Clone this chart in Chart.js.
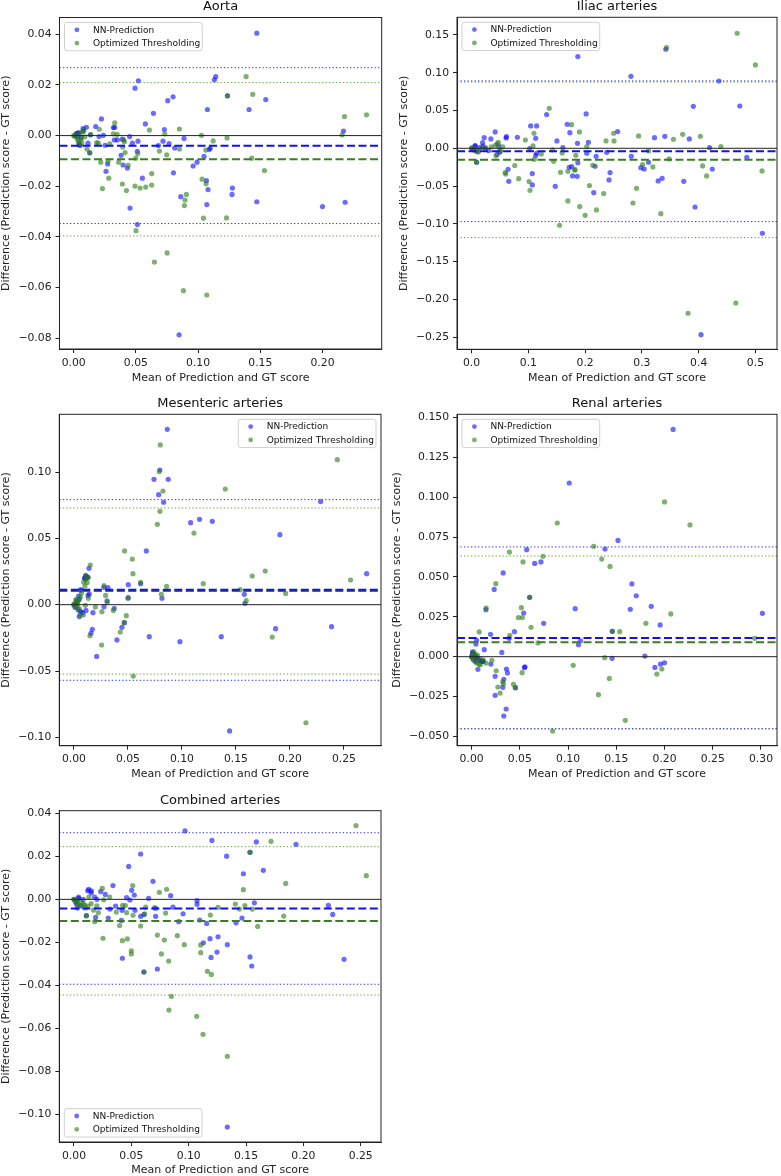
<!DOCTYPE html>
<html>
<head>
<meta charset="utf-8">
<script src="https://cdn.jsdelivr.net/npm/chart.js@4.4.1/dist/chart.umd.min.js"></script>
<style>
  body { margin: 0; background: #fff; }
  #wrap { position: relative; width: 781px; height: 1176px; overflow: hidden; }
  canvas { position: absolute; }
</style>
</head>
<body>
<div id="wrap">
  <canvas id="aorta"></canvas>
  <canvas id="iliac"></canvas>
  <canvas id="mesenteric"></canvas>
  <canvas id="renal"></canvas>
  <canvas id="combined"></canvas>
</div>
<script>
// series names
const seriesNames = ["NN-Prediction", "Optimized Thresholding"];
const xAxisLabel = "Mean of Prediction and GT score";
const yAxisLabel = "Difference (Prediction score - GT score)";

// ---- Aorta ----
const aortaNN = [
  [0.1472, 0.0404], [0.052, 0.0216], [0.0493, 0.0187], [0.1131, 0.022], [0.1142, 0.0233],
  [0.0756, 0.0138], [0.0799, 0.0153], [0.1236, 0.0157], [0.1544, 0.0142], [0.1075, 0.0103],
  [0.141, 0.0103], [0.0641, 0.0088], [0.0223, 0.0066], [0.0576, 0.0046], [0.0177, 0.0036],
  [0.0102, 0.0033], [0.0319, 0.0032], [0.033, 0.0032], [0.0729, 0.0024], [0.2169, 0.0018],
  [0.0887, -0.0011], [0.045, -0.0004], [0.0391, -0.0014], [0.0327, -0.0017], [0.0351, -0.0017],
  [0.0517, -0.0022], [0.0472, -0.003], [0.0718, -0.0022], [0.0767, -0.0032], [0.0681, -0.0039],
  [0.0812, -0.0049], [0.0252, -0.0038], [0.0204, -0.0004], [0.0239, 0.0001], [0.0134, 0.0003],
  [0.0115, -0.003], [0.0051, -0.0039], [0.0032, 0.0009], [0.0075, 0.0028], [0.0381, -0.0078],
  [0.0512, -0.0062], [0.1048, -0.0082], [0.1089, -0.0055], [0.1097, -0.005], [0.0129, -0.0068],
  [0.0397, -0.0116], [0.0432, -0.0128], [0.0273, -0.0112], [0.026, -0.0141], [0.096, -0.012],
  [0.0992, -0.0105], [0.0802, -0.0147], [0.0552, -0.0168], [0.1067, -0.0178], [0.108, -0.0213],
  [0.1276, -0.0207], [0.1273, -0.0232], [0.0861, -0.0241], [0.107, -0.0272], [0.1472, -0.0261],
  [0.2, -0.028], [0.2182, -0.0263], [0.0453, -0.0286], [0.0512, -0.0351], [0.0847, -0.0786],
  [0.001, 0.0], [0.002, 0.0008], [0.003, -0.0006], [0.004, 0.0012], [0.006, -0.0008],
  [0.008, 0.0018], [0.0045, -0.0035]
];
const aortaOT = [
  [0.1386, 0.0233], [0.144, 0.0163], [0.2177, 0.0075], [0.2354, 0.0082], [0.2158, 0.0003],
  [0.1027, 0.0001], [0.1233, -0.0009], [0.1121, -0.0021], [0.1062, -0.0057], [0.1432, -0.0089],
  [0.1534, -0.0138], [0.033, 0.005], [0.0349, 0.0005], [0.0319, 0.0007], [0.0609, 0.0022],
  [0.0732, 0.0007], [0.085, 0.0026], [0.0137, 0.0004], [0.0206, 0.0025], [0.0198, -0.003],
  [0.0185, -0.0028], [0.0402, -0.0017], [0.0408, -0.0024], [0.0394, -0.0045], [0.0413, -0.0067],
  [0.0515, -0.0071], [0.0499, -0.0089], [0.0689, -0.0061], [0.0748, -0.0076], [0.085, -0.0053],
  [0.0217, -0.0105], [0.029, -0.0033], [0.0362, -0.0105], [0.0437, -0.0117], [0.0276, -0.0101],
  [0.0282, -0.0168], [0.0107, -0.0053], [0.0231, -0.0209], [0.0391, -0.0191], [0.0424, -0.0217],
  [0.0493, -0.0199], [0.0534, -0.0207], [0.0579, -0.0203], [0.0627, -0.0195], [0.0627, -0.015],
  [0.1032, -0.0172], [0.1064, -0.019], [0.0906, -0.0232], [0.0895, -0.0254], [0.089, -0.0276],
  [0.1043, -0.0326], [0.1228, -0.0325], [0.0501, -0.0375], [0.0649, -0.0499], [0.0751, -0.0463],
  [0.0882, -0.0612], [0.107, -0.0629], [0.1236, 0.0157], [0.0129, -0.0068],
  [0.0, 0.0], [0.001, -0.0003], [0.002, 0.0004], [0.003, -0.0015], [0.004, -0.0025],
  [0.005, 0.0008], [0.006, -0.0012], [0.007, 0.0015], [0.008, 0.0024], [0.009, -0.0005],
  [0.0045, -0.0032], [0.0065, -0.0028]
];
// mean, upper limit, lower limit
const aortaNNLines = [-0.0040, 0.0268, -0.0347];
const aortaOTLines = [-0.0093, 0.0209, -0.0396];
const aortaXTicks = [0, 0.05, 0.1, 0.15, 0.2];
const aortaYTicks = [-0.08, -0.06, -0.04, -0.02, 0, 0.02, 0.04];

// ---- Iliac arteries ----
const iliacNN = [
  [0.1871, 0.1214], [0.3421, 0.1311], [0.2807, 0.0953], [0.4357, 0.0891], [0.3906, 0.0556],
  [0.4725, 0.056], [0.1322, 0.0446], [0.2018, 0.0455], [0.1684, 0.0318], [0.1041, 0.0296],
  [0.1146, 0.0296], [0.0415, 0.0216], [0.2573, 0.0221], [0.1731, 0.0207], [0.1129, 0.0132],
  [0.0608, 0.0137], [0.0614, 0.0154], [0.0807, 0.0146], [0.0339, 0.0124], [0.0222, 0.0141],
  [0.0193, 0.0075], [0.1503, 0.0097], [0.2058, 0.0079], [0.1865, 0.0066], [0.3222, 0.0141],
  [0.3404, 0.0159], [0.3836, 0.0124], [0.4193, 0.0009], [0.0064, 0.0035], [0.0234, 0.0],
  [0.1023, -0.0004], [0.1608, 0.0009], [0.2029, -0.0066], [0.238, -0.0053], [0.1146, -0.0066],
  [0.1129, -0.0097], [0.2193, -0.0106], [0.2813, -0.0106], [0.4848, -0.0119], [0.1871, -0.019],
  [0.0088, -0.0185], [0.3117, -0.0185], [0.2175, -0.0238], [0.1766, -0.0243], [0.1719, -0.0252],
  [0.2982, -0.0256], [0.304, -0.0274], [0.424, -0.0274], [0.1778, -0.0366], [0.186, -0.0371],
  [0.2439, -0.0322], [0.107, -0.0335], [0.0643, -0.0278], [0.0655, -0.0437], [0.2421, -0.0419],
  [0.3287, -0.0432], [0.3357, -0.0397], [0.3737, -0.0437], [0.107, -0.0485], [0.1474, -0.0503],
  [0.2152, -0.0587], [0.3936, -0.0777], [0.5123, -0.1125], [0.4041, -0.2467],
  [0.0, 0.0], [0.003, -0.002], [0.006, 0.003], [0.01, -0.004], [0.014, 0.001],
  [0.02, 0.003], [0.03, -0.003], [0.045, -0.008], [0.05, -0.005], [0.048, 0.003]
];
const iliacOT = [
  [0.4678, 0.1523], [0.3433, 0.1333], [0.5, 0.1103], [0.1368, 0.053], [0.176, 0.0313],
  [0.19, 0.0216], [0.1099, 0.0199], [0.2503, 0.0199], [0.0947, 0.011], [0.2368, 0.0097],
  [0.2509, 0.0097], [0.2942, 0.0163], [0.3556, 0.0119], [0.3719, 0.0185], [0.4029, 0.0159],
  [0.4392, 0.0022], [0.1082, 0.0031], [0.2029, 0.0022], [0.3117, -0.0035], [0.1427, -0.0022],
  [0.1228, -0.0075], [0.1596, -0.0062], [0.1836, -0.0093], [0.1105, -0.0146], [0.1444, -0.0172],
  [0.348, -0.0141], [0.2135, -0.0225], [0.3012, -0.0216], [0.3193, -0.0247], [0.407, -0.0234],
  [0.414, -0.0366], [0.5117, -0.03], [0.076, -0.0229], [0.0591, -0.0322], [0.0602, -0.034],
  [0.083, -0.0402], [0.1567, -0.0318], [0.1696, -0.0305], [0.1819, -0.0278], [0.1819, -0.0291],
  [0.1012, -0.0441], [0.1029, -0.0556], [0.2076, -0.0494], [0.2327, -0.06], [0.2906, -0.053],
  [0.1696, -0.0697], [0.2842, -0.0724], [0.1906, -0.0772], [0.2199, -0.0816], [0.2, -0.0887],
  [0.3333, -0.0865], [0.155, -0.1019], [0.3813, -0.2184], [0.4655, -0.2048], [0.0088, -0.0185],
  [0.001, 0.001], [0.004, -0.001], [0.008, -0.004], [0.012, -0.005], [0.018, 0.001],
  [0.025, 0.001], [0.035, 0.002], [0.042, 0.004], [0.045, 0.006], [0.047, 0.008],
  [0.05, -0.002], [0.055, 0.002], [0.043, -0.01], [0.05, -0.004]
];
const iliacNNLines = [-0.0040, 0.0891, -0.0971];
const iliacOTLines = [-0.0152, 0.0878, -0.1183];
const iliacXTicks = [0, 0.1, 0.2, 0.3, 0.4, 0.5];
const iliacYTicks = [-0.25, -0.2, -0.15, -0.1, -0.05, 0, 0.05, 0.1, 0.15];

// ---- Mesenteric arteries ----
const mesNN = [
  [0.0864, 0.1322], [0.0796, 0.1015], [0.0741, 0.0945], [0.0873, 0.0945], [0.0784, 0.0829],
  [0.083, 0.0772], [0.2284, 0.0777], [0.108, 0.0618], [0.1163, 0.0643], [0.1281, 0.0628],
  [0.1907, 0.0528], [0.067, 0.0405], [0.271, 0.0234], [0.0139, 0.0274], [0.0108, 0.0219],
  [0.0127, 0.0204], [0.0099, 0.0199], [0.0503, 0.0151], [0.0617, 0.0158], [0.0315, 0.0128],
  [0.0059, 0.0111], [0.0278, 0.0131], [0.0815, 0.0048], [0.0503, 0.0053], [0.1577, 0.0078],
  [0.1583, 0.001], [0.0043, 0.0065], [0.0142, 0.008], [0.0306, 0.0028], [0.0278, -0.0015],
  [0.0111, -0.0043], [0.0373, -0.0028], [0.0176, -0.006], [0.0049, -0.009], [0.0062, -0.0053],
  [0.0466, -0.0136], [0.0444, -0.0171], [0.017, -0.0186], [0.0157, -0.0216], [0.0398, -0.0266],
  [0.0697, -0.0241], [0.0981, -0.0279], [0.1364, -0.0241], [0.1867, -0.0181], [0.2385, -0.0166],
  [0.021, -0.039], [0.1441, -0.0952],
  [0.0, 0.0], [0.001, -0.002], [0.002, 0.003], [0.003, 0.001], [0.004, -0.004],
  [0.005, 0.004], [0.007, 0.011], [0.008, -0.006], [0.01, 0.02], [0.012, 0.021], [0.013, 0.007]
];
const mesOT = [
  [0.0799, 0.1204], [0.079, 0.1003], [0.2438, 0.1093], [0.0824, 0.0857], [0.1401, 0.0872],
  [0.0796, 0.0704], [0.0772, 0.0606], [0.1111, 0.054], [0.0469, 0.0405], [0.054, 0.0344],
  [0.0546, 0.0234], [0.0151, 0.0299], [0.0617, 0.0168], [0.0858, 0.0138], [0.1197, 0.0158],
  [0.1651, 0.0216], [0.1771, 0.0254], [0.2561, 0.0186], [0.154, 0.0113], [0.196, 0.0085],
  [0.1595, 0.003], [0.0809, 0.0078], [0.0278, 0.0143], [0.0293, 0.007], [0.0309, 0.0018],
  [0.0133, 0.0048], [0.0108, 0.0191], [0.0123, 0.0168], [0.0102, 0.0141], [0.0133, 0.0206],
  [0.05, 0.0048], [0.0105, -0.0005], [0.0198, -0.0018], [0.0259, -0.0053], [0.0364, -0.0043],
  [0.0485, -0.0083], [0.0086, -0.0078], [0.0056, -0.0078], [0.0466, -0.0136], [0.0429, -0.0206],
  [0.0148, -0.0234], [0.0256, -0.0304], [0.1836, -0.0244], [0.0549, -0.0538], [0.2148, -0.089],
  [0.0, 0.0], [0.001, 0.001], [0.002, -0.002], [0.003, 0.002], [0.004, 0.003],
  [0.005, -0.003], [0.006, 0.006], [0.007, 0.009], [0.003, -0.001], [0.002, 0.004],
  [0.009, 0.017], [0.011, 0.022]
];
const mesNNLines = [0.0112, 0.0792, -0.0570];
const mesOTLines = [0.0104, 0.0729, -0.0523];
const mesXTicks = [0, 0.05, 0.1, 0.15, 0.2, 0.25];
const mesYTicks = [-0.1, -0.05, 0, 0.05, 0.1];

// ---- Renal arteries ----
const renNN = [
  [0.2089, 0.1425], [0.1012, 0.1089], [0.1518, 0.0729], [0.1383, 0.0675], [0.0571, 0.0671],
  [0.0654, 0.0585], [0.0719, 0.0594], [0.0327, 0.0525], [0.0234, 0.0422], [0.1662, 0.0456],
  [0.1707, 0.0382], [0.1862, 0.0316], [0.1645, 0.0297], [0.1074, 0.0301], [0.0148, 0.0295],
  [0.054, 0.0274], [0.0602, 0.0372], [0.3015, 0.0272], [0.0747, 0.0209], [0.1955, 0.0199],
  [0.0444, 0.0157], [0.1459, 0.0159], [0.0196, 0.014], [0.0389, 0.0115], [0.1129, 0.01],
  [0.1108, 0.0075], [0.0045, 0.0079], [0.0052, 0.0102], [0.0131, 0.0044], [0.0313, 0.0027],
  [0.1796, 0.0004], [0.1456, -0.001], [0.2, -0.0038], [0.1958, -0.0046], [0.19, -0.0067],
  [0.02, -0.0046], [0.0065, -0.0079], [0.0361, -0.0077], [0.0372, -0.0102], [0.0547, -0.0069],
  [0.0554, -0.0063], [0.0244, -0.0123], [0.0334, -0.0142], [0.0323, -0.0192], [0.0454, -0.0194],
  [0.0244, -0.0242], [0.0358, -0.0328], [0.0334, -0.0372], [0.0114, -0.0027],
  [0.0, 0.0], [0.001, 0.002], [0.002, -0.002], [0.003, 0.001], [0.004, -0.003],
  [0.005, 0.0], [0.006, -0.001], [0.008, -0.002], [0.01, -0.003], [0.012, -0.003], [0.001, 0.003]
];
const renOT = [
  [0.2, 0.097], [0.2264, 0.0826], [0.0888, 0.0838], [0.1266, 0.0692], [0.0392, 0.0656],
  [0.074, 0.0629], [0.0533, 0.0594], [0.1349, 0.0612], [0.1435, 0.0566], [0.0251, 0.0458],
  [0.0151, 0.0305], [0.0516, 0.0307], [0.0485, 0.0245], [0.0526, 0.0245], [0.0616, 0.0184],
  [0.0602, 0.0372], [0.1807, 0.0209], [0.2065, 0.0268], [0.1535, 0.0157], [0.1459, 0.0159],
  [0.0396, 0.0134], [0.0079, 0.0155], [0.0688, 0.0086], [0.2935, 0.0115], [0.021, -0.0023],
  [0.0255, -0.0088], [0.0079, -0.0048], [0.0523, -0.01], [0.1053, -0.0054], [0.138, -0.0006],
  [0.1428, -0.0136], [0.1972, -0.0077], [0.192, -0.0109], [0.0272, -0.019], [0.0323, -0.0157],
  [0.033, -0.0171], [0.0434, -0.0173], [0.0454, -0.0194], [0.0296, -0.0228], [0.1315, -0.0238],
  [0.1593, -0.0399], [0.084, -0.0466],
  [0.0, 0.0], [0.001, -0.001], [0.002, 0.001], [0.003, 0.002], [0.004, -0.002],
  [0.006, 0.001], [0.008, -0.001], [0.009, -0.005], [0.012, -0.002], [0.015, -0.004],
  [0.002, 0.003], [0.005, -0.004]
];
const renNNLines = [0.0117, 0.0688, -0.0452];
const renOTLines = [0.0090, 0.0631, -0.0452];
const renXTicks = [0, 0.05, 0.1, 0.15, 0.2, 0.25, 0.3];
const renYTicks = [-0.05, -0.025, 0, 0.025, 0.05, 0.075, 0.1, 0.125, 0.15];

// ---- Combined arteries ----
const combNN = [
  [0.0968, 0.0319], [0.1203, 0.0274], [0.159, 0.0267], [0.1936, 0.0256], [0.1331, 0.0201],
  [0.1535, 0.0219], [0.0581, 0.0211], [0.0477, 0.0153], [0.1651, 0.0135], [0.1477, 0.0119],
  [0.034, 0.0064], [0.0689, 0.0084], [0.0128, 0.0047], [0.0151, 0.0039], [0.0233, 0.0036],
  [0.0503, 0.0042], [0.0526, 0.002], [0.0843, 0.0017], [0.0651, 0.0005], [0.0459, 0.0008],
  [0.0488, -0.0003], [0.0273, 0.0023], [0.0041, 0.0005], [0.1073, -0.0006], [0.1073, -0.0023],
  [0.1573, -0.0016], [0.2218, -0.0028], [0.2256, -0.007], [0.0363, -0.0031], [0.0314, -0.0045],
  [0.0532, -0.0051], [0.0419, -0.0051], [0.0703, -0.0039], [0.0863, -0.0036], [0.0712, -0.0079],
  [0.0951, -0.0067], [0.0581, -0.0079], [0.061, -0.0071], [0.0299, -0.0087], [0.0189, -0.0084],
  [0.0108, -0.0076], [0.0413, -0.0098], [0.0913, -0.0104], [0.1096, -0.0096], [0.1157, -0.0112],
  [0.1413, -0.0109], [0.1465, -0.0087], [0.002, -0.002], [0.1128, -0.0202], [0.1186, -0.0183],
  [0.1256, -0.0174], [0.1337, -0.0211], [0.1195, -0.027], [0.1247, -0.0245], [0.1535, -0.0268],
  [0.155, -0.031], [0.0422, -0.0274], [0.0727, -0.0324], [0.061, -0.0338], [0.2355, -0.0279],
  [0.1337, -0.1059],
  [0.0, 0.0], [0.002, -0.001], [0.004, 0.001], [0.006, -0.003], [0.008, 0.0],
  [0.003, -0.004], [0.012, 0.004], [0.015, 0.003], [0.018, 0.001], [0.02, 0.0]
];
const combOT = [
  [0.2459, 0.0343], [0.1718, 0.027], [0.1535, 0.0219], [0.2549, 0.011], [0.1846, 0.0074],
  [0.1477, 0.0045], [0.0512, 0.0064], [0.0247, 0.0051], [0.0311, 0.0011], [0.0808, 0.0047],
  [0.0744, 0.0033], [0.0259, -0.0002], [0.1407, -0.0022], [0.149, -0.0029], [0.1442, -0.0045],
  [0.1555, -0.0045], [0.1256, -0.0037], [0.0625, -0.0036], [0.0715, -0.0042], [0.0448, -0.0029],
  [0.0424, -0.0028], [0.0369, -0.0059], [0.0459, -0.0062], [0.0515, -0.0074], [0.0616, -0.0068],
  [0.0799, -0.0064], [0.1189, -0.0073], [0.1829, -0.0078], [0.1602, -0.0126], [0.0398, -0.0122],
  [0.0581, -0.0124], [0.018, -0.0104], [0.0212, -0.0062], [0.0122, -0.0031], [0.0093, -0.0025],
  [0.0029, -0.0008], [0.0253, -0.0181], [0.0465, -0.0184], [0.0422, -0.0192], [0.0727, -0.0166],
  [0.0901, -0.0169], [0.0788, -0.0189], [0.0962, -0.0211], [0.1105, -0.0212], [0.05, -0.0239],
  [0.05, -0.0254], [0.0762, -0.0254], [0.0826, -0.0287], [0.1105, -0.0248], [0.1163, -0.0335],
  [0.1198, -0.0349], [0.061, -0.0338], [0.0849, -0.0451], [0.0828, -0.0515], [0.107, -0.0544],
  [0.1125, -0.0628], [0.1337, -0.073], [0.0108, -0.0076],
  [0.0, 0.0], [0.001, -0.001], [0.002, 0.0], [0.003, -0.002], [0.005, -0.003],
  [0.006, -0.001], [0.008, -0.002], [0.01, -0.004], [0.013, 0.001], [0.015, -0.002],
  [0.017, -0.005], [0.02, -0.003]
];
const combNNLines = [-0.0043, 0.0310, -0.0395];
const combOTLines = [-0.0101, 0.0245, -0.0445];
const combXTicks = [0, 0.05, 0.1, 0.15, 0.2, 0.25];
const combYTicks = [-0.1, -0.08, -0.06, -0.04, -0.02, 0, 0.02, 0.04];

// ---- styling / layout ----
const FONT = "'DejaVu Sans', sans-serif";
const nnPoint = "rgba(0, 0, 255, 0.58)";
const otPoint = "rgba(40, 125, 15, 0.6)";
const nnMeanColor = "#1010f0";
const otMeanColor = "#3a7d22";
const nnLimitColor = "#2a2aff";
const otLimitColor = "#5aa033";

const panels = [
  {
    id: "aorta", title: "Aorta", nn: aortaNN, ot: aortaOT,
    nnLines: aortaNNLines, otLines: aortaOTLines,
    xTicks: aortaXTicks, yTicks: aortaYTicks, xDec: 2, yDec: 2,
    xRange: [-0.0114, 0.2476], yRange: [-0.0842, 0.0466],
    box: { left: 0, top: 0, w: 390, h: 384.6 },
    plot: { left: 59.5, top: 17.5, right: 381.7, bottom: 349 },
    yTitlePad: 0, legend: "upper left",
  },
  {
    id: "iliac", title: "Iliac arteries", nn: iliacNN, ot: iliacOT,
    nnLines: iliacNNLines, otLines: iliacOTLines,
    xTicks: iliacXTicks, yTicks: iliacYTicks, xDec: 1, yDec: 2,
    xRange: [-0.0257, 0.538], yRange: [-0.2661, 0.1734],
    box: { left: 390, top: 0, w: 391, h: 384.6 },
    plot: { left: 457, top: 17.3, right: 778.3, bottom: 349.3 },
    yTitlePad: 7.7, legend: "upper left",
  },
  {
    id: "mesenteric", title: "Mesenteric arteries", nn: mesNN, ot: mesOT,
    nnLines: mesNNLines, otLines: mesOTLines,
    xTicks: mesXTicks, yTicks: mesYTicks, xDec: 2, yDec: 2,
    xRange: [-0.01358, 0.2843], yRange: [-0.1063, 0.1435],
    box: { left: 0, top: 385, w: 390, h: 395.9 },
    plot: { left: 59.3, top: 414.3, right: 381, bottom: 745.7 },
    yTitlePad: 0, legend: "upper right",
  },
  {
    id: "renal", title: "Renal arteries", nn: renNN, ot: renOT,
    nnLines: renNNLines, otLines: renOTLines,
    xTicks: renXTicks, yTicks: renYTicks, xDec: 2, yDec: 3,
    xRange: [-0.01514, 0.3166], yRange: [-0.0558, 0.15196],
    box: { left: 390, top: 385, w: 391, h: 395.9 },
    plot: { left: 457, top: 414.3, right: 778.3, bottom: 745.7 },
    yTitlePad: 0.7, legend: "upper left",
  },
  {
    id: "combined", title: "Combined arteries", nn: combNN, ot: combOT,
    nnLines: combNNLines, otLines: combOTLines,
    xTicks: combXTicks, yTicks: combYTicks, xDec: 2, yDec: 2,
    xRange: [-0.0128, 0.2677], yRange: [-0.11287, 0.04124],
    box: { left: 0, top: 780, w: 390, h: 396.6 },
    plot: { left: 59.3, top: 810.7, right: 381, bottom: 1142 },
    yTitlePad: 0, legend: "lower left",
  },
];

function fmt(v, dec) {
  if (Math.abs(v) < 1e-12) return (0).toFixed(dec);
  const s = Math.abs(v).toFixed(dec);
  return v < 0 ? "\u2212" + s : s;
}

function hLine(y, range, color, width, dash) {
  return {
    type: "line",
    data: [{ x: range[0], y: y }, { x: range[1], y: y }],
    borderColor: color,
    borderWidth: width,
    borderDash: dash,
    pointRadius: 0,
    showLine: true,
    fill: false,
    order: 0,
  };
}

// frame, title and a matplotlib style legend inside the axes
const panelDeco = {
  id: "panelDeco",
  afterDraw(chart, args, opts) {
    const { ctx, chartArea } = chart;
    ctx.save();
    ctx.strokeStyle = "#222";
    ctx.lineWidth = 1;
    ctx.strokeRect(chartArea.left, chartArea.top, chartArea.right - chartArea.left, chartArea.bottom - chartArea.top);

    ctx.fillStyle = "#111";
    ctx.font = "13px " + FONT;
    ctx.textAlign = "center";
    ctx.textBaseline = "middle";
    ctx.fillText(opts.title, (chartArea.left + chartArea.right) / 2, chartArea.top - 10.5);

    const w = 137.7, h = 28.3, inset = 5;
    let bx = chartArea.left + inset;
    let by = chartArea.top + inset;
    if (opts.legend === "upper right") bx = chartArea.right - inset - w;
    if (opts.legend === "lower left") by = chartArea.bottom - inset - h;
    ctx.beginPath();
    ctx.roundRect(bx, by, w, h, 2.5);
    ctx.fillStyle = "rgba(255,255,255,0.8)";
    ctx.fill();
    ctx.strokeStyle = "#d0d0d0";
    ctx.stroke();

    const colors = [nnPoint, otPoint];
    ctx.font = "9px " + FONT;
    ctx.textAlign = "left";
    seriesNames.forEach((name, i) => {
      const cy = by + 7.3 + i * 13.3;
      ctx.beginPath();
      ctx.arc(bx + 12.4, cy, 2.4, 0, Math.PI * 2);
      ctx.fillStyle = colors[i];
      ctx.fill();
      ctx.fillStyle = "#111";
      ctx.fillText(name, bx + 28.4, cy + 0.5);
    });
    ctx.restore();
  },
};

function makePanel(p) {
  const canvas = document.getElementById(p.id);
  canvas.width = Math.ceil(p.box.w);
  canvas.height = Math.ceil(p.box.h);
  canvas.style.left = p.box.left + "px";
  canvas.style.top = p.box.top + "px";

  const toXY = (arr) => arr.map((d) => ({ x: d[0], y: d[1] }));

  const datasets = [
    hLine(0, p.xRange, "#222", 1, []),
    hLine(p.nnLines[0], p.xRange, nnMeanColor, 2, [8, 3.5]),
    hLine(p.otLines[0], p.xRange, otMeanColor, 2, [8, 3.5]),
    hLine(p.nnLines[1], p.xRange, nnLimitColor, 1, [1.3, 2.2]),
    hLine(p.nnLines[2], p.xRange, nnLimitColor, 1, [1.3, 2.2]),
    hLine(p.otLines[1], p.xRange, otLimitColor, 1, [1.3, 2.2]),
    hLine(p.otLines[2], p.xRange, otLimitColor, 1, [1.3, 2.2]),
    {
      type: "scatter",
      label: seriesNames[1],
      data: toXY(p.ot),
      backgroundColor: otPoint,
      borderWidth: 0,
      pointRadius: 2.6,
      order: 1,
    },
    {
      type: "scatter",
      label: seriesNames[0],
      data: toXY(p.nn),
      backgroundColor: nnPoint,
      borderWidth: 0,
      pointRadius: 2.6,
      order: 2,
    },
  ];

  const tickFont = { family: FONT, size: 10.8 };
  const labelFont = { family: FONT, size: 11 };
  const extraBottom = Math.ceil(p.box.h) - p.box.h;

  new Chart(canvas, {
    type: "scatter",
    data: { datasets: datasets },
    options: {
      responsive: false,
      animation: false,
      events: [],
      layout: {
        padding: {
          top: p.plot.top - p.box.top,
          right: Math.ceil(p.box.w) + p.box.left - p.plot.right,
          left: 0,
          bottom: extraBottom,
        },
      },
      scales: {
        x: {
          type: "linear",
          min: p.xRange[0],
          max: p.xRange[1],
          afterBuildTicks: (s) => { s.ticks = p.xTicks.map((v) => ({ value: v })); },
          afterFit: (s) => { s.height = p.box.top + p.box.h - p.plot.bottom; },
          ticks: {
            autoSkip: false,
            maxRotation: 0,
            padding: 3.5,
            color: "#222",
            font: tickFont,
            callback: (v) => fmt(v, p.xDec),
          },
          grid: { display: true, drawOnChartArea: false, drawTicks: true, tickLength: 4, color: "#222" },
          border: { display: true, color: "#222" },
          title: { display: true, text: xAxisLabel, color: "#222", font: labelFont, padding: 0 },
        },
        y: {
          type: "linear",
          min: p.yRange[0],
          max: p.yRange[1],
          afterBuildTicks: (s) => { s.ticks = p.yTicks.map((v) => ({ value: v })); },
          afterFit: (s) => { s.width = p.plot.left - p.box.left; },
          ticks: {
            autoSkip: false,
            padding: 4,
            color: "#222",
            font: tickFont,
            callback: (v) => fmt(v, p.yDec),
          },
          grid: { display: true, drawOnChartArea: false, drawTicks: true, tickLength: 4, color: "#222" },
          border: { display: true, color: "#222" },
          title: { display: true, text: yAxisLabel, color: "#222", font: labelFont, padding: { top: p.yTitlePad, bottom: 0 } },
        },
      },
      plugins: {
        legend: { display: false },
        tooltip: { enabled: false },
        panelDeco: { title: p.title, legend: p.legend },
      },
    },
    plugins: [panelDeco],
  });
}

panels.forEach((p) => makePanel(p));
</script>
</body>
</html>
